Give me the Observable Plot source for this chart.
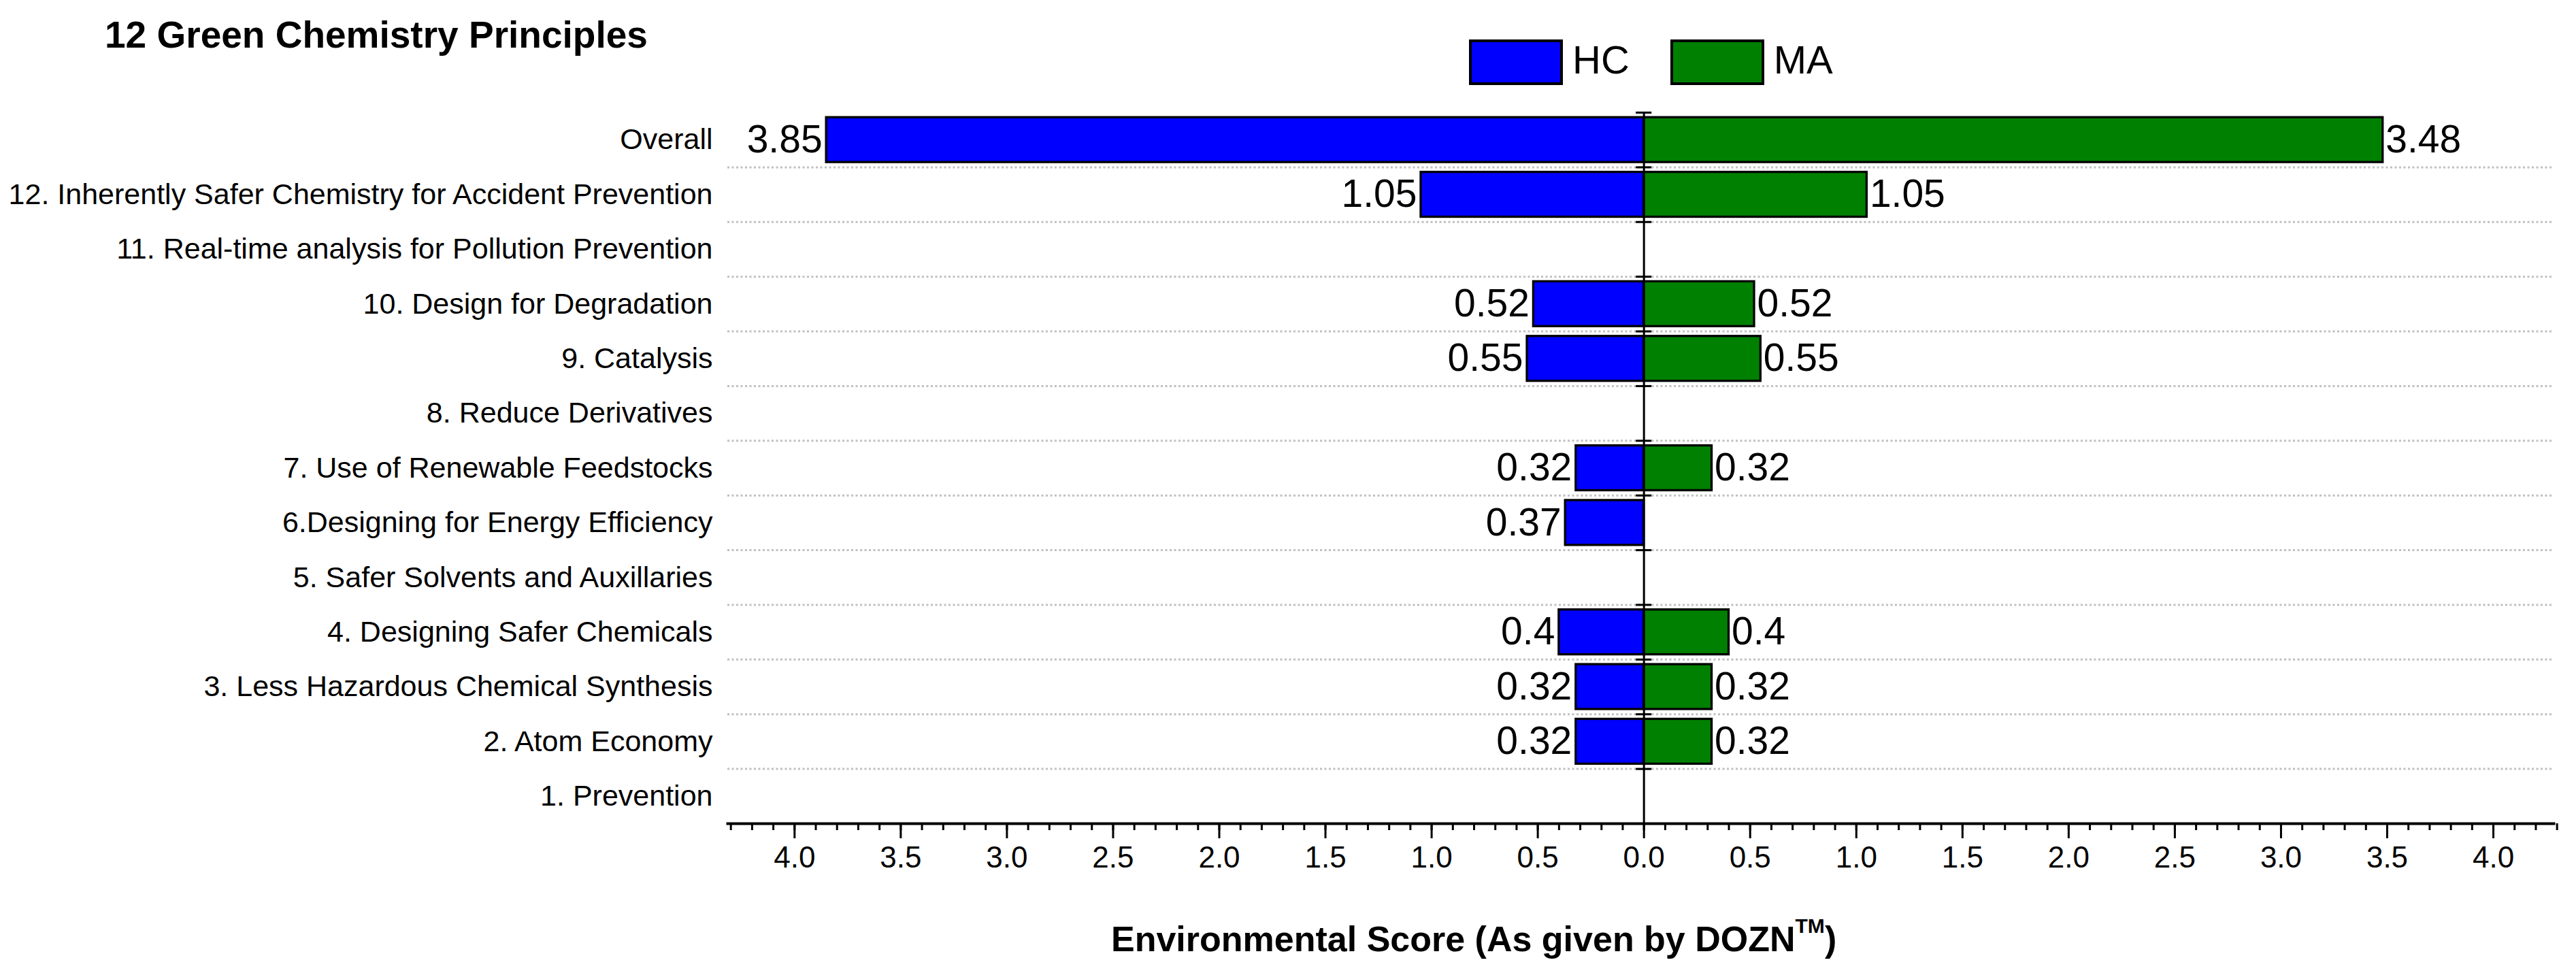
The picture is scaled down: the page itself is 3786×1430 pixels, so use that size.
<!DOCTYPE html>
<html>
<head>
<meta charset="utf-8">
<script src="https://cdn.jsdelivr.net/npm/d3@7"></script>
<script src="https://cdn.jsdelivr.net/npm/@observablehq/plot@0.6"></script>
<style>
  body { margin: 0; background: white; }
  #root { position: relative; width: 3786px; height: 1430px; font-family: "Liberation Sans", Arial, sans-serif; color: black; background: white; overflow: hidden; }
  #title { position: absolute; left: 154px; top: 24px; font-size: 55px; line-height: 55px; font-weight: bold; white-space: nowrap; }
  #legend { position: absolute; left: 2159px; top: 58px; display: flex; align-items: flex-start; }
  .item { display: flex; align-items: flex-start; margin-right: 60px; }
  .swatch { width: 138px; height: 67px; box-sizing: border-box; border: 4px solid black; }
  .ltext { font-size: 58px; line-height: 58px; margin-left: 14px; margin-top: 1px; white-space: nowrap; }
  #chart { position: absolute; left: 0; top: 150px; }
  #xtitle { position: absolute; left: 1633px; top: 1354px; font-size: 52px; line-height: 52px; font-weight: bold; white-space: nowrap; }
  #xtitle .tm { font-size: 30px; position: relative; top: -27px; }
</style>
</head>
<body>
<div id="root">
  <div id="title">12 Green Chemistry Principles</div>
  <div id="legend"></div>
  <div id="chart"></div>
  <div id="xtitle">Environmental Score (As given by DOZN<span class="tm">TM</span>)</div>
</div>
<script>
// ---- data ----
const categories = [
  "Overall",
  "12. Inherently Safer Chemistry for Accident Prevention",
  "11. Real-time analysis for Pollution Prevention",
  "10. Design for Degradation",
  "9. Catalysis",
  "8. Reduce Derivatives",
  "7. Use of Renewable Feedstocks",
  "6.Designing for Energy Efficiency",
  "5. Safer Solvents and Auxillaries",
  "4. Designing Safer Chemicals",
  "3. Less Hazardous Chemical Synthesis",
  "2. Atom Economy",
  "1. Prevention"
];
const hcValues = [3.85, 1.05, 0, 0.52, 0.55, 0, 0.32, 0.37, 0, 0.4, 0.32, 0.32, 0];
const maValues = [3.48, 1.05, 0, 0.52, 0.55, 0, 0.32, 0, 0, 0.4, 0.32, 0.32, 0];
const seriesNames = ["HC", "MA"];
const seriesColors = ["#0000ff", "#008000"];
const xTickValues = [-4, -3.5, -3, -2.5, -2, -1.5, -1, -0.5, 0, 0.5, 1, 1.5, 2, 2.5, 3, 3.5, 4];
const xTickLabels = ["4.0", "3.5", "3.0", "2.5", "2.0", "1.5", "1.0", "0.5", "0.0", "0.5", "1.0", "1.5", "2.0", "2.5", "3.0", "3.5", "4.0"];

// ---- legend ----
const legend = document.getElementById("legend");
seriesNames.forEach((name, k) => {
  const item = document.createElement("div");
  item.className = "item";
  const sw = document.createElement("div");
  sw.className = "swatch";
  sw.style.background = seriesColors[k];
  const t = document.createElement("div");
  t.className = "ltext";
  t.textContent = name;
  item.appendChild(sw); item.appendChild(t);
  legend.appendChild(item);
});

// ---- derived tables ----
const rows = categories.map((c, i) => ({i, category: c, hc: hcValues[i], ma: maValues[i]}));
const hcRows = rows.filter(d => d.hc > 0);
const maRows = rows.filter(d => d.ma > 0);
const gridPositions = d3.range(categories.length - 1).map(i => i + 0.5);
const zeroTicks = [-0.5, ...gridPositions];
const minorTicks = d3.range(-43, 44).map(k => k / 10);
const halfBar = 0.41;

const chart = Plot.plot({
  width: 3786,
  height: 1160,
  marginTop: 15,
  marginBottom: 100,
  marginLeft: 1069,
  marginRight: 33,
  style: {fontFamily: "'Liberation Sans', Arial, sans-serif", fontSize: "44px", background: "white", color: "black"},
  x: {domain: [-4.315, 4.285]},
  y: {domain: [-0.5, categories.length - 0.5], reverse: true},
  marks: [
    Plot.ruleY(gridPositions, {stroke: "#c0c0c0", strokeWidth: 3, strokeDasharray: "3,3.5"}),
    Plot.rect(hcRows, {x1: 0, x2: d => -d.hc, y1: d => d.i - halfBar, y2: d => d.i + halfBar, fill: seriesColors[0], stroke: "black", strokeWidth: 3.3}),
    Plot.rect(maRows, {x1: 0, x2: d => d.ma, y1: d => d.i - halfBar, y2: d => d.i + halfBar, fill: seriesColors[1], stroke: "black", strokeWidth: 3.3}),
    Plot.ruleX([0], {stroke: "black", strokeWidth: 3}),
    Plot.ruleY(zeroTicks, {x1: -0.037, x2: 0.037, stroke: "black", strokeWidth: 3}),
    Plot.text(hcRows, {x: d => -d.hc, y: "i", text: d => String(d.hc), textAnchor: "end", dx: -6, fontSize: 57}),
    Plot.text(maRows, {x: d => d.ma, y: "i", text: d => String(d.ma), textAnchor: "start", dx: 4, fontSize: 57}),
    Plot.axisY({ticks: d3.range(categories.length), tickFormat: i => categories[i], tickSize: 0, tickPadding: 22, fontSize: 43, label: null}),
    Plot.axisX({ticks: minorTicks, tickSize: 10, tickFormat: () => "", strokeWidth: 3, label: null}),
    Plot.axisX({ticks: xTickValues, tickSize: 22, tickPadding: 11, tickFormat: d => xTickLabels[xTickValues.indexOf(d)], strokeWidth: 3, fontSize: 44, label: null}),
    Plot.frame({anchor: "bottom", stroke: "black", strokeWidth: 4})
  ]
});
document.getElementById("chart").appendChild(chart);
</script>
</body>
</html>
